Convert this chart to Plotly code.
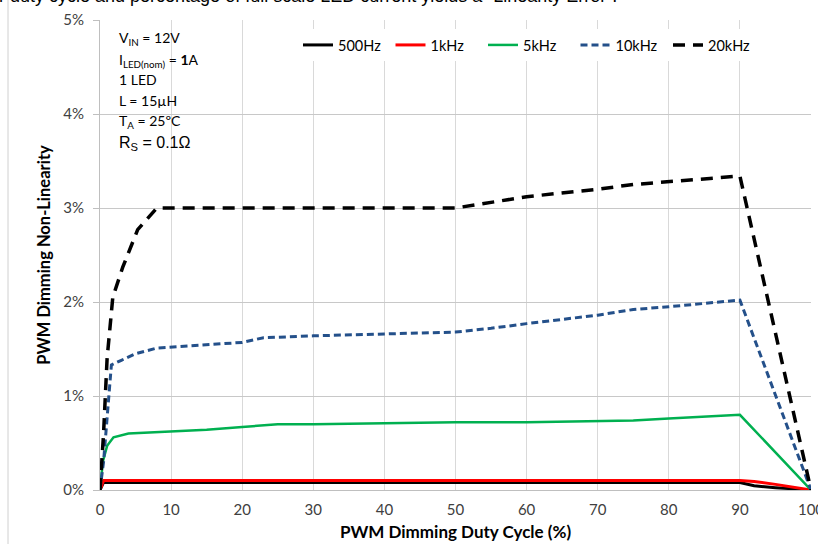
import plotly.graph_objects as go

# ---- data ----
x_500 = [0, 0.5, 10, 30, 50, 70, 90, 92, 95, 100]
y_500 = [0, 0.08, 0.08, 0.08, 0.08, 0.08, 0.08, 0.045, 0.025, 0]

x_1k = [0, 0.5, 10, 30, 50, 70, 90, 92, 95, 100]
y_1k = [0, 0.10, 0.10, 0.10, 0.10, 0.10, 0.10, 0.09, 0.06, 0]

x_5k = [0, 0.4, 1.0, 1.9, 4, 10, 15, 20, 25, 30, 40, 50, 60, 70, 75, 80, 85, 90, 100]
y_5k = [0, 0.30, 0.47, 0.56, 0.60, 0.62, 0.64, 0.67, 0.70, 0.70, 0.71, 0.72, 0.72, 0.73, 0.74, 0.76, 0.78, 0.80, 0]

x_10k = [0, 0.5, 1.3, 1.6, 3, 5, 8, 10, 20, 23, 30, 40, 50, 55, 60, 70, 75, 80, 90, 100]
y_10k = [0, 0.30, 1.05, 1.33, 1.38, 1.45, 1.51, 1.52, 1.57, 1.62, 1.64, 1.66, 1.68, 1.72, 1.77, 1.86, 1.92, 1.95, 2.02, 0]

x_20k = [0, 0.5, 1.0, 1.8, 3.2, 5.3, 8, 10, 20, 30, 40, 50, 60, 70, 75, 80, 90, 100]
y_20k = [0, 0.6, 1.4, 2.05, 2.37, 2.77, 3.0, 3.0, 3.0, 3.0, 3.0, 3.0, 3.12, 3.2, 3.25, 3.28, 3.34, 0]

x_ticks = [0, 10, 20, 30, 40, 50, 60, 70, 80, 90, 100]
y_ticks = [0, 1, 2, 3, 4, 5]
y_labels = ["0%", "1%", "2%", "3%", "4%", "5%"]

names = ["500Hz", "1kHz", "5kHz", "10kHz", "20kHz"]

FONT = "Lato"

fig = go.Figure()
fig.add_trace(go.Scatter(x=x_500, y=y_500, mode="lines", name=names[0],
                         line=dict(color="#000000", width=3)))
fig.add_trace(go.Scatter(x=x_1k, y=y_1k, mode="lines", name=names[1],
                         line=dict(color="#ff0000", width=3)))
fig.add_trace(go.Scatter(x=x_5k, y=y_5k, mode="lines", name=names[2],
                         line=dict(color="#00b050", width=2.5)))
fig.add_trace(go.Scatter(x=x_10k, y=y_10k, mode="lines", name=names[3],
                         line=dict(color="#24508a", width=3, dash="7px,4px")))
fig.add_trace(go.Scatter(x=x_20k, y=y_20k, mode="lines", name=names[4],
                         line=dict(color="#000000", width=3.5, dash="12px,8px")))

W, H = 818, 544
L, R, T, B = 100, 7, 20, 54
PW, PH = W - L - R, H - T - B


def px(xp):
    return (xp - L) / PW


def py(yp):
    return (H - B - yp) / PH


annotations = []
# partially visible caption at the very top
annotations.append(dict(
    text="r duty cycle and percentage of full scale LED current yields a \u201cLinearity Error\u201d.",
    xref="paper", yref="paper", x=px(-3), y=py(8), xanchor="left", yanchor="bottom",
    showarrow=False, font=dict(family="Liberation Sans", size=18, color="#000000")))

info_lines = [
    ("V<sub>IN</sub> = 12V", 38, FONT, 14),
    ("I<sub>LED(nom)</sub> = <b>1</b>A", 60, FONT, 14),
    ("1 LED", 80, FONT, 14),
    ("L = 15\u00b5H", 100, FONT, 14),
    ("T<sub>A</sub> = 25\u00baC", 121, FONT, 14),
    ("R<sub>S</sub> = 0.1\u03a9", 143, "Liberation Sans", 16),
]
for txt, yp, fam, sz in info_lines:
    annotations.append(dict(text=txt, xref="paper", yref="paper", x=px(117), y=py(yp),
                            xanchor="left", yanchor="middle", showarrow=False,
                            font=dict(family=fam, size=sz, color="#000000")))

shapes = [
    dict(type="rect", xref="paper", yref="paper", x0=px(105), x1=px(231), y0=py(160), y1=py(20),
         fillcolor="white", line=dict(width=0), layer="between"),
    dict(type="line", xref="paper", yref="paper", x0=px(8), x1=px(8), y0=py(544), y1=py(0),
         line=dict(color="#d0d0d0", width=1)),
]

fig.update_layout(
    width=W, height=H,
    margin=dict(l=L, r=R, t=T, b=B, autoexpand=False),
    paper_bgcolor="white", plot_bgcolor="white",
    font=dict(family=FONT, size=14, color="#000000"),
    showlegend=True,
    legend=dict(orientation="h", x=px(298), y=py(45), xanchor="left", yanchor="middle",
                bgcolor="white", font=dict(family=FONT, size=14.5, color="#000000"),
                itemwidth=30, entrywidth=47.5, entrywidthmode="pixels", tracegroupgap=0),
    xaxis=dict(range=[0, 100], tickvals=x_ticks, ticktext=[str(v) for v in x_ticks],
               showgrid=True, gridcolor="#d9d9d9", gridwidth=1,
               showline=True, linecolor="#bfbfbf", linewidth=1, automargin=False,
               zeroline=False, ticks="", tickfont=dict(size=15, color="#404040"),
               ticklabelstandoff=6, ticklabeloverflow="allow",
               title=dict(text="<b>PWM Dimming Duty Cycle (%)</b>", font=dict(size=17, color="#000000"),
                          standoff=9)),
    yaxis=dict(range=[0, 5], tickvals=y_ticks, ticktext=y_labels,
               showgrid=True, gridcolor="#c8c8c8", gridwidth=1,
               showline=True, linecolor="#bfbfbf", linewidth=1, automargin=False,
               zeroline=False, ticks="outside", ticklen=6, tickcolor="#bfbfbf",
               tickfont=dict(size=15, color="#404040"), ticklabelstandoff=6,
               title=dict(text="<b>PWM Dimming Non-Linearity</b>", font=dict(size=16.5, color="#000000"),
                          standoff=8)),
    annotations=annotations,
    shapes=shapes,
)

fig.write_html("out.html", config={"displayModeBar": False},
               post_script="document.body.style.margin='0';document.body.style.overflow='hidden';")
